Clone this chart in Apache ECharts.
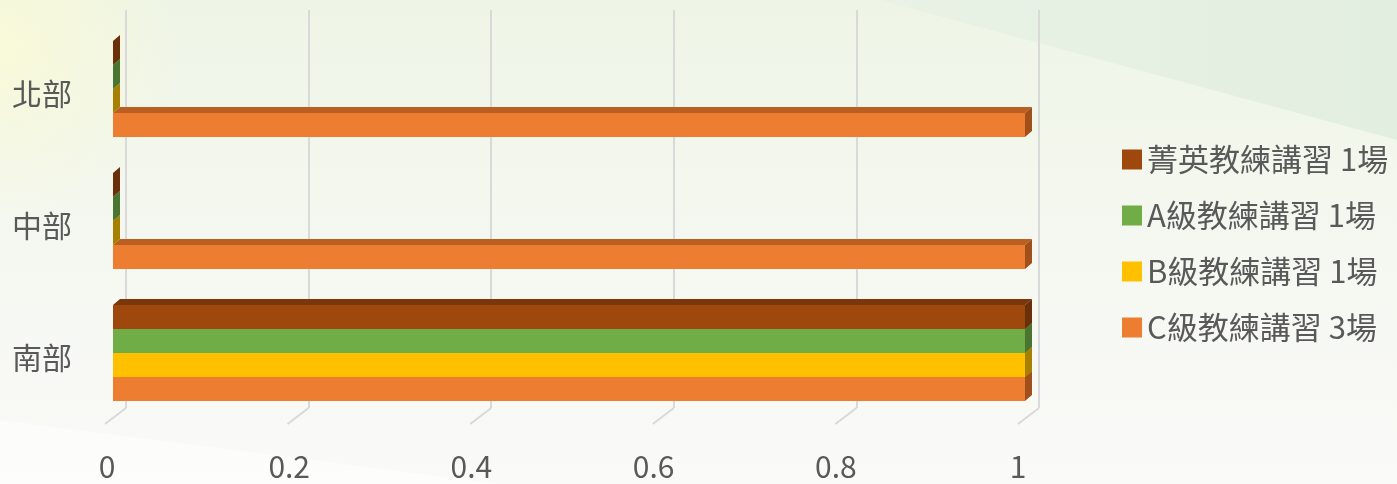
<!DOCTYPE html>
<html>
<head>
<meta charset="utf-8">
<script src="https://cdn.jsdelivr.net/npm/echarts@6/dist/echarts.min.js"></script>
<style>
html,body{margin:0;padding:0;}
#main{width:1397px;height:484px;}
</style>
</head>
<body>
<div id="main"></div>
<script>
// ---- data ----
const categories = ['南部', '中部', '北部'];
const seriesNames = ['C級教練講習 3場', 'B級教練講習 1場', 'A級教練講習 1場', '菁英教練講習 1場'];
const cValues = [1, 1, 1];
const bValues = [1, 0, 0];
const aValues = [1, 0, 0];
const eliteValues = [1, 0, 0];
const xTicks = [0, 0.2, 0.4, 0.6, 0.8, 1];
const legendOrder = ['菁英教練講習 1場', 'A級教練講習 1場', 'B級教練講習 1場', 'C級教練講習 3場'];

// ---- styles ----
const faceColors = [
  { front: '#ED7D31', top: '#BA5F22', side: '#A14F1B' },
  { front: '#FFC000', top: '#C69500', side: '#A88000' },
  { front: '#70AD47', top: '#578636', side: '#4A7530' },
  { front: '#9E480E', top: '#7A370B', side: '#6A300A' }
];
const allValues = [cValues, bValues, aValues, eliteValues];
const DX = 7, DY = 6;
const GROUP_RATIO = 0.7273;
const FONT = '"Noto Sans CJK TC", "Noto Sans", sans-serif';
const TEXT_COLOR = '#595959';

function makeBarRender(sIdx) {
  return function (params, api) {
    const val = api.value(0);
    const cat = api.value(1);
    const base = api.coord([0, cat]);
    const end = api.coord([val, cat]);
    const band = api.size([0, 1])[1];
    const groupH = band * GROUP_RATIO;
    const barH = groupH / 4;
    const yBottom = base[1] + groupH / 2 - sIdx * barH;
    const yTop = yBottom - barH;
    const x0 = base[0], x1 = end[0];
    const c = faceColors[sIdx];
    return {
      type: 'group',
      children: [
        { type: 'rect', shape: { x: x0, y: yTop, width: x1 - x0, height: barH }, style: { fill: c.front } },
        { type: 'polygon', shape: { points: [[x0, yTop], [x0 + DX, yTop - DY], [x1 + DX, yTop - DY], [x1, yTop]] }, style: { fill: c.top } },
        { type: 'polygon', shape: { points: [[x1, yTop], [x1 + DX, yTop - DY], [x1 + DX, yBottom - DY], [x1, yBottom]] }, style: { fill: c.side } }
      ]
    };
  };
}

const barSeries = allValues.map(function (vals, i) {
  return {
    type: 'custom',
    name: seriesNames[i],
    xAxisIndex: 0,
    yAxisIndex: 0,
    clip: false,
    z: 5,
    itemStyle: { color: faceColors[i].front },
    renderItem: makeBarRender(i),
    encode: { x: 0, y: 1 },
    data: vals.map(function (v, ci) { return [v, ci]; })
  };
});

const floorSeries = {
  type: 'custom',
  xAxisIndex: 1,
  yAxisIndex: 1,
  clip: false,
  silent: true,
  z: 1,
  renderItem: function (params, api) {
    const p = api.coord([api.value(0), 0]);
    return {
      type: 'line',
      shape: { x1: p[0], y1: p[1], x2: p[0] - 21, y2: p[1] + 16 },
      style: { stroke: '#d9d9d9', lineWidth: 2 }
    };
  },
  data: xTicks.map(function (t) { return [t]; })
};

const chart = echarts.init(document.getElementById('main'), null, { renderer: 'canvas' });
chart.setOption({
  animation: false,
  backgroundColor: {
    type: 'linear', x: 0, y: 0, x2: 0, y2: 1,
    colorStops: [
      { offset: 0, color: '#eef5e6' },
      { offset: 0.6, color: '#f6f8f2' },
      { offset: 1, color: '#fafaf8' }
    ]
  },
  graphic: [
    { type: 'rect', z: -10, silent: true, shape: { x: 0, y: 0, width: 400, height: 300 },
      style: { fill: { type: 'radial', x: 0, y: 0.15, r: 0.6, colorStops: [
        { offset: 0, color: 'rgba(250,250,215,0.9)' }, { offset: 1, color: 'rgba(250,250,215,0)' }] } } },
    { type: 'polygon', z: -10, silent: true, shape: { points: [[880, 0], [1397, 0], [1397, 140]] },
      style: { fill: { type: 'linear', x: 0, y: 0, x2: 1, y2: 0, colorStops: [
        { offset: 0, color: '#e9f2e5' }, { offset: 1, color: '#e2eee0' }] } } },
    { type: 'polygon', z: -10, silent: true, shape: { points: [[0, 420], [500, 484], [0, 484]] }, style: { fill: 'rgba(255,255,255,0.5)' } }
  ],
  textStyle: { fontFamily: FONT },
  legend: {
    orient: 'vertical',
    left: 1117,
    top: 139,
    itemWidth: 20,
    itemHeight: 20,
    itemGap: 25,
    icon: 'rect',
    data: legendOrder,
    textStyle: { fontSize: 31, color: TEXT_COLOR, fontFamily: FONT, padding: [0, 0, 0, 0] }
  },
  grid: [
    { left: 113, width: 912, top: 23, height: 396 },   // bars
    { left: 126, width: 913, top: 10, height: 398 },   // back wall
    { left: 107, width: 911, top: 10, height: 440 },   // x labels
    { left: 113, width: 912, top: 28, height: 396 }    // y labels
  ],
  xAxis: [
    { gridIndex: 0, type: 'value', min: 0, max: 1, show: false },
    { gridIndex: 1, type: 'value', min: 0, max: 1, interval: 0.2,
      axisLine: { show: false }, axisTick: { show: false }, axisLabel: { show: false },
      splitLine: { show: true, lineStyle: { color: '#d9d9d9', width: 2 } } },
    { gridIndex: 2, type: 'value', min: 0, max: 1, interval: 0.2,
      axisLine: { show: false }, axisTick: { show: false }, splitLine: { show: false },
      axisLabel: { show: true, fontSize: 30, color: TEXT_COLOR, margin: 2, fontFamily: FONT,
        formatter: function (v) { return String(Math.round(v * 10) / 10); } } },
    { gridIndex: 3, type: 'value', min: 0, max: 1, show: false }
  ],
  yAxis: [
    { gridIndex: 0, type: 'category', data: categories, show: false },
    { gridIndex: 1, type: 'value', min: 0, max: 1, show: false },
    { gridIndex: 2, type: 'value', min: 0, max: 1, show: false },
    { gridIndex: 3, type: 'category', data: categories,
      axisLine: { show: false }, axisTick: { show: false }, splitLine: { show: false },
      axisLabel: { fontSize: 30, color: TEXT_COLOR, margin: 41, fontFamily: FONT } }
  ],
  series: [floorSeries].concat(barSeries)
});
</script>
</body>
</html>
